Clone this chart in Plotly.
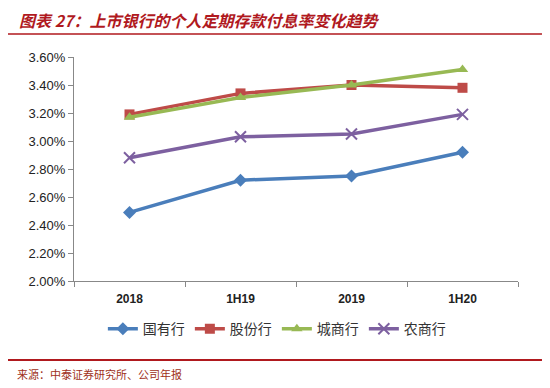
import plotly.graph_objects as go

categories = ["2018", "1H19", "2019", "1H20"]
series_names = ["国有行", "股份行", "城商行", "农商行"]
state_owned = [2.49, 2.72, 2.75, 2.92]
joint_stock = [3.19, 3.34, 3.40, 3.38]
city_comm = [3.17, 3.31, 3.40, 3.51]
rural_comm = [2.88, 3.03, 3.05, 3.19]
y_ticks = [2.0, 2.2, 2.4, 2.6, 2.8, 3.0, 3.2, 3.4, 3.6]
y_tick_labels = ["2.00%", "2.20%", "2.40%", "2.60%", "2.80%", "3.00%", "3.20%", "3.40%", "3.60%"]

colors = ["#4A7EBB", "#BE4B48", "#98B954", "#7D60A0"]
symbols = ["diamond", "square", "triangle-up", "x-thin"]
values = [state_owned, joint_stock, city_comm, rural_comm]

fig = go.Figure()
for name, vals, c, s in zip(series_names, values, colors, symbols):
    marker = dict(symbol=s, size=10, color=c)
    if s == "x-thin":
        marker = dict(symbol=s, size=11, color=c, line=dict(color=c, width=2))
    fig.add_trace(go.Scatter(x=categories, y=vals, name=name, mode="lines+markers",
                             line=dict(color=c, width=3.5), marker=marker))

red = "#B0191E"
# page body has an 8px margin, so the figure is sized/offset to compensate
fig.update_layout(
    width=542, height=380,
    margin=dict(l=66, r=32, t=49, b=107),
    plot_bgcolor="white", paper_bgcolor="white",
    font=dict(family="Liberation Sans, Noto Sans CJK SC", size=12, color="#222"),
    showlegend=True,
    legend=dict(orientation="h", x=0.065, xanchor="left", y=-0.215, yanchor="middle",
                font=dict(family="Noto Sans CJK SC", size=14, color="#333"),
                itemwidth=30, tracegroupgap=0, bgcolor="rgba(0,0,0,0)"),
    xaxis=dict(type="category", showline=True, linecolor="#888", linewidth=1,
               ticks="outside", tickson="boundaries", ticklen=5, tickcolor="#888",
               showgrid=False, tickfont=dict(size=12, color="#222", weight="bold"),
               ticklabelstandoff=7, range=[-0.5, 3.5]),
    yaxis=dict(range=[2.0, 3.6], tickvals=y_ticks, ticktext=y_tick_labels,
               showline=True, linecolor="#888", linewidth=1, ticks="outside",
               ticklen=5, tickcolor="#888", showgrid=False, zeroline=False,
               tickfont=dict(size=13, color="#222")),
    shapes=[
        dict(type="line", xref="paper", yref="paper", x0=-0.151, x1=1.054, y0=1.2254, y1=1.2254,
             line=dict(color=red, width=2.5)),
        dict(type="line", xref="paper", yref="paper", x0=-0.151, x1=1.054, y0=1.1027, y1=1.1027,
             line=dict(color=red, width=1.5)),
        dict(type="line", xref="paper", yref="paper", x0=-0.151, x1=1.054, y0=-0.3527, y1=-0.3527,
             line=dict(color=red, width=2)),
    ],
    annotations=[
        dict(text="图表 27：上市银行的个人定期存款付息率变化趋势", xref="paper", yref="paper",
             x=-0.128, y=1.163, xanchor="left", yanchor="middle", showarrow=False,
             font=dict(family="Noto Sans CJK SC", size=16, color=red, weight="bold", style="italic")),
        dict(text="来源：中泰证券研究所、公司年报", xref="paper", yref="paper",
             x=-0.133, y=-0.415, xanchor="left", yanchor="middle", showarrow=False,
             font=dict(family="Noto Sans CJK SC", size=11, color="#A03020")),
    ],
)

fig.write_html("out.html")
